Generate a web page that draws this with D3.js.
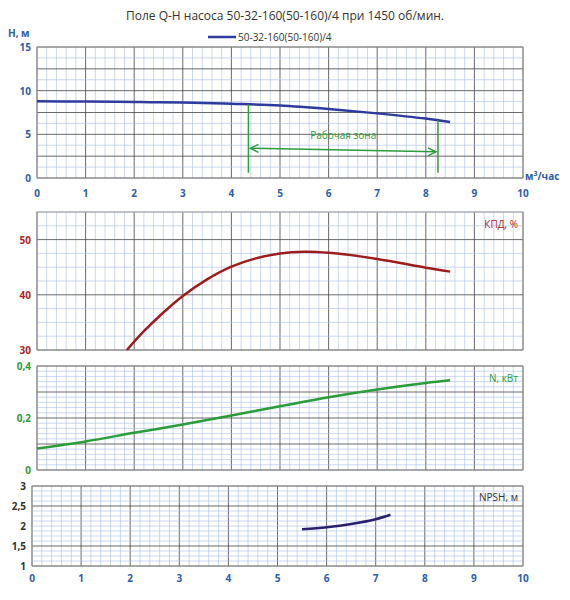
<!DOCTYPE html><html><head><meta charset="utf-8"><script src="https://cdn.jsdelivr.net/npm/d3@7"></script>
<style>body{margin:0;background:#fff}text{font-family:"Open Sans",sans-serif}</style></head><body><svg id="c" width="570" height="600"></svg><script>
const qH=[0,1,2,3,4,5,6,7,8,8.5], hVals=[8.8,8.75,8.7,8.65,8.5,8.3,7.9,7.4,6.8,6.4];
const qE=[1.85,2.2,2.6,3,3.5,4,4.5,5,5.5,6,7,8,8.5], eVals=[30,33.4,36.8,39.8,42.8,45.1,46.6,47.5,47.8,47.6,46.5,44.9,44.2];
const qN=[0,1,2,3,4,5,6,7,8,8.5], nVals=[0.083,0.11,0.143,0.175,0.21,0.245,0.28,0.31,0.335,0.345];
const qP=[5.5,6,6.5,7,7.3], pVals=[1.92,1.97,2.05,2.17,2.28];
const xTicks=d3.range(0,11);
const zone=[4.35,8.25];
const svg=d3.select("#c");
svg.append("text").attr("x",285).attr("y",20).attr("text-anchor","middle").attr("font-size",12).attr("fill","#333").text("Поле Q-H насоса 50-32-160(50-160)/4 при 1450 об/мин.");
svg.append("line").attr("x1",208).attr("x2",236).attr("y1",37).attr("y2",37).attr("stroke","#2e3a9c").attr("stroke-width",2.5);
svg.append("text").attr("x",238).attr("y",41).attr("font-size",10).attr("fill","#333").text("50-32-160(50-160)/4");
const line=(x,y)=>d3.line().x(d=>x(d[0])).y(d=>y(d[1])).curve(d3.curveCatmullRom);
function panel(x0,top,bot,ydom,ystep,ymajor,ticks,fmt,col,xlab){
  const x=d3.scaleLinear().domain([0,10]).range([x0,523]);
  const y=d3.scaleLinear().domain(ydom).range([bot,top]);
  const g=svg.append("g");
  d3.range(0,10.001,0.2).forEach(v=>{const maj=Math.abs(v-Math.round(v))<1e-6;
    g.append("line").attr("x1",x(v)).attr("x2",x(v)).attr("y1",top).attr("y2",bot).attr("stroke",maj?"#444":"#a8bde8").attr("stroke-width",maj?0.8:0.6);});
  d3.range(ydom[0],ydom[1]+1e-6,ystep).forEach(v=>{const maj=ymajor.some(m=>Math.abs(m-v)<1e-6);
    g.append("line").attr("x1",x0).attr("x2",523).attr("y1",y(v)).attr("y2",y(v)).attr("stroke",maj?"#444":"#a8bde8").attr("stroke-width",maj?0.8:0.6);});
  g.append("rect").attr("x",x0).attr("y",top).attr("width",523-x0).attr("height",bot-top).attr("fill","none").attr("stroke","#999");
  ticks.forEach(v=>g.append("text").attr("x",x0-6).attr("y",y(v)+4).attr("text-anchor","end").attr("font-size",10).attr("font-weight","bold").attr("fill",col).text(fmt(v)));
  if(xlab!==undefined) xTicks.forEach(v=>g.append("text").attr("x",x(v)).attr("y",xlab).attr("text-anchor","middle").attr("font-size",10).attr("font-weight","bold").attr("fill","#2a5db0").text(v));
  return {x,y,g};
}
const p1=panel(37,47,178,[0,15],1.25,[0,5,10,15,2.5,7.5,12.5],[0,5,10,15],d=>d,"#2a5db0",197);
p1.g.append("path").attr("d",line(p1.x,p1.y)(qH.map((q,i)=>[q,hVals[i]]))).attr("fill","none").attr("stroke","#2e3a9c").attr("stroke-width",2.5);
svg.append("text").attr("x",8).attr("y",37).attr("font-size",10).attr("font-weight","bold").attr("fill","#2a5db0").text("H, м");
svg.append("text").attr("x",525).attr("y",180).attr("font-size",10).attr("font-weight","bold").attr("fill","#2a5db0").html("м<tspan font-size='7' dy='-4'>3</tspan><tspan dy='4'>/час</tspan>");
const hAt=q=>d3.scaleLinear().domain(qH).range(hVals)(q);
zone.forEach(q=>p1.g.append("line").attr("x1",p1.x(q)).attr("x2",p1.x(q)).attr("y1",p1.y(hAt(q))).attr("y2",p1.y(0.6)).attr("stroke","#2a9d3a").attr("stroke-width",1.5));
p1.g.append("line").attr("x1",p1.x(zone[0])+2).attr("x2",p1.x(zone[1])-2).attr("y1",p1.y(3.4)).attr("y2",p1.y(3.0)).attr("stroke","#2a9d3a").attr("stroke-width",1.5);
[[zone[0],3.4,1],[zone[1],3.0,-1]].forEach(([q,h,s])=>{const X=p1.x(q)+2*s,Y=p1.y(h);
  p1.g.append("path").attr("d",`M${X+8*s},${Y-4}L${X},${Y}L${X+8*s},${Y+4}`).attr("fill","none").attr("stroke","#2a9d3a").attr("stroke-width",1.5);});
p1.g.append("text").attr("x",p1.x(6.3)).attr("y",p1.y(4.5)).attr("text-anchor","middle").attr("font-size",10).attr("fill","#2a9d3a").text("Рабочая зона");
const p2=panel(37,212,350,[30,55],2.5,[30,40,50],[30,40,50],d=>d,"#b22222");
p2.g.append("path").attr("d",line(p2.x,p2.y)(qE.map((q,i)=>[q,eVals[i]]))).attr("fill","none").attr("stroke","#9e1c1c").attr("stroke-width",2.5);
svg.append("text").attr("x",518).attr("y",228).attr("text-anchor","end").attr("font-size",10).attr("fill","#b22222").text("КПД, %");
const p3=panel(37,366,470,[0,0.4],0.02,[0,0.1,0.2,0.3,0.4],[0,0.2,0.4],d=>d===0?"0":String(d).replace(".",","),"#2a9d3a");
p3.g.append("path").attr("d",line(p3.x,p3.y)(qN.map((q,i)=>[q,nVals[i]]))).attr("fill","none").attr("stroke","#2a9d3a").attr("stroke-width",2.5);
svg.append("text").attr("x",518).attr("y",382).attr("text-anchor","end").attr("font-size",10).attr("fill","#2a9d3a").text("N, кВт");
const p4=panel(32,486,566,[1,3],0.125,[1,1.5,2.5,3],[1,1.5,2,2.5,3],d=>String(d).replace(".",","),"#333",582);
p4.g.append("path").attr("d",line(p4.x,p4.y)(qP.map((q,i)=>[q,pVals[i]]))).attr("fill","none").attr("stroke","#2b1f6e").attr("stroke-width",2.5);
svg.append("text").attr("x",518).attr("y",501).attr("text-anchor","end").attr("font-size",10).attr("fill","#333").text("NPSH, м");
</script></body></html>
